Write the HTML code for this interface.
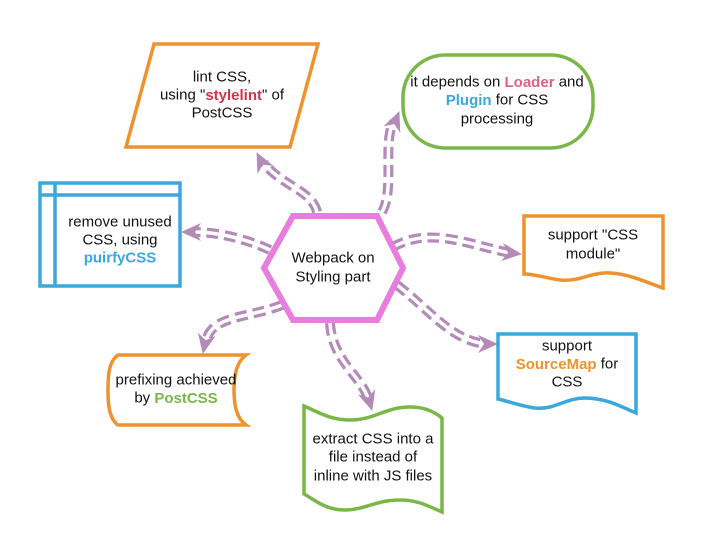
<!DOCTYPE html>
<html><head><meta charset="utf-8"><style>
html,body{margin:0;padding:0;background:#fff;}
svg{display:block;}
text{font-family:"Liberation Sans",sans-serif;font-size:15px;fill:#111;text-anchor:middle;dominant-baseline:central;}
.b{font-weight:bold;}
</style></head><body>
<svg width="719" height="533" viewBox="0 0 719 533" xmlns="http://www.w3.org/2000/svg">
<defs>
<marker id="ah" markerUnits="userSpaceOnUse" markerWidth="24" markerHeight="20" refX="19" refY="9" orient="auto">
<path d="M0,0 L20,9 L0,18 L6,9 Z" fill="#b48bb8"/>
</marker>
</defs>
<g fill="none">
<g stroke="#b48bb8" stroke-width="10" stroke-dasharray="12,6">
<path d="M317,212 C312,190 280,185 264,163"/>
<path d="M382,212 C395,190 382,140 394,122"/>
<path d="M270,250 C245,238 215,232 194,232"/>
<path d="M393,247 C430,226 470,245 510,253"/>
<path d="M397,285 C430,310 450,340 486,344"/>
<path d="M330,323 C332,360 360,375 368,398"/>
<path d="M282,305 C250,318 210,315 206,342"/>
</g>
<g stroke="#fff" stroke-width="3.5">
<path d="M317,212 C312,190 280,185 264,163"/>
<path d="M382,212 C395,190 382,140 394,122"/>
<path d="M270,250 C245,238 215,232 194,232"/>
<path d="M393,247 C430,226 470,245 510,253"/>
<path d="M397,285 C430,310 450,340 486,344"/>
<path d="M330,323 C332,360 360,375 368,398"/>
<path d="M282,305 C250,318 210,315 206,342"/>
</g>
<g stroke="none">
<path d="M262,163 L257,153" marker-end="url(#ah)"/>
<path d="M395,122 L399,112" marker-end="url(#ah)"/>
<path d="M192,232 L182,232" marker-end="url(#ah)"/>
<path d="M511,253 L521,254" marker-end="url(#ah)"/>
<path d="M487,344 L497,344" marker-end="url(#ah)"/>
<path d="M369,400 L372,410" marker-end="url(#ah)"/>
<path d="M205,343 L203,353" marker-end="url(#ah)"/>
</g>
</g>
<polygon points="264,268 293,216 377,216 403,268 377,320 293,320" fill="#fff" stroke="#e87de0" stroke-width="6"/>
<text x="333" y="258">Webpack on</text>
<text x="333" y="277">Styling part</text>
<polygon points="154,44 318,44 290,147 126,147" fill="#fff" stroke="#f0922b" stroke-width="3.5"/>
<text x="222" y="77">lint CSS,</text>
<text x="222" y="95">using "<tspan class="b" style="fill:#d2334a">stylelint</tspan>" of</text>
<text x="222" y="113">PostCSS</text>
<rect x="403" y="55" width="190" height="93" rx="42" fill="#fff" stroke="#7ab648" stroke-width="3.5"/>
<text x="497" y="82">it depends on <tspan class="b" style="fill:#e0608a">Loader</tspan> and</text>
<text x="497" y="100"><tspan class="b" style="fill:#3aa7dd">Plugin</tspan> for CSS</text>
<text x="497" y="119">processing</text>
<rect x="40" y="183" width="140" height="103" fill="#fff" stroke="#3aa7dd" stroke-width="3.5"/>
<line x1="55" y1="183" x2="55" y2="286" stroke="#3aa7dd" stroke-width="3.5"/>
<line x1="40" y1="195" x2="180" y2="195" stroke="#3aa7dd" stroke-width="3.5"/>
<text x="120" y="222">remove unused</text>
<text x="120" y="240">CSS, using</text>
<text x="120" y="258" class="b" style="fill:#3aa7dd">puirfyCSS</text>
<path d="M524,216 L663,216 L663,288 C645,282 630,274 610,273 C590,272 580,282 560,280 C545,278 535,274 524,274 Z" fill="#fff" stroke="#f0922b" stroke-width="3.5"/>
<text x="593" y="235">support "CSS</text>
<text x="593" y="254">module"</text>
<path d="M498,334 L636,334 L636,413 C620,406 605,398 585,398 C565,398 555,410 535,408 C520,406 508,401 498,399 Z" fill="#fff" stroke="#3aa7dd" stroke-width="3.5"/>
<text x="567" y="346">support</text>
<text x="567" y="364"><tspan class="b" style="fill:#f0922b">SourceMap</tspan> for</text>
<text x="567" y="382">CSS</text>
<path d="M118,355 L246,355 C236,362 234,378 234,390 C234,404 236,418 246,425 L118,425 C108,418 108,400 108,390 C108,378 108,362 118,355 Z" fill="#fff" stroke="#f0922b" stroke-width="3.5"/>
<text x="176" y="380">prefixing achieved</text>
<text x="176" y="398">by <tspan class="b" style="fill:#7ab648">PostCSS</tspan></text>
<path d="M304,406 C318,412 330,420 350,420 C375,420 385,407 410,407 C425,407 435,412 442,418 L442,512 C428,506 418,500 400,500 C375,500 365,510 345,510 C325,510 315,500 304,494 Z" fill="#fff" stroke="#7ab648" stroke-width="3.5"/>
<text x="373" y="439">extract CSS  into a</text>
<text x="373" y="457">file instead of</text>
<text x="373" y="476">inline with JS files</text>
</svg>
</body></html>
